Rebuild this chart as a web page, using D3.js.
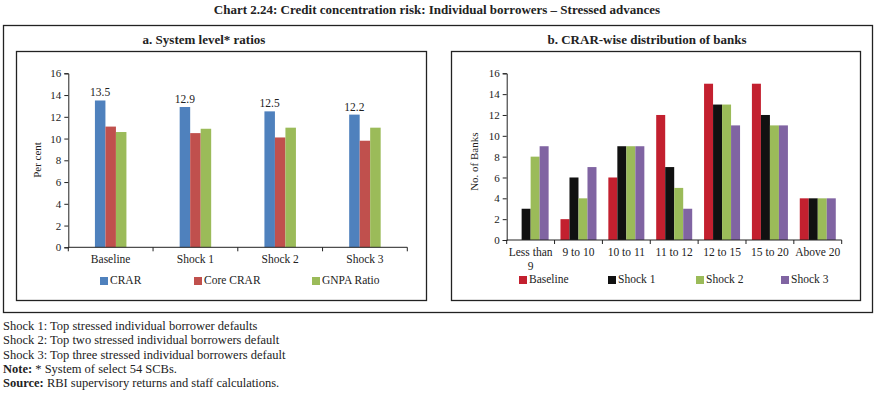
<!DOCTYPE html>
<html>
<head>
<meta charset="utf-8">
<script src="https://cdn.jsdelivr.net/npm/d3@7"></script>
<style>
  body { margin: 0; background: #fff; }
  svg text { font-family: "Liberation Serif", "DejaVu Serif", serif; fill: #222; }
</style>
</head>
<body>
<svg id="chart" width="879" height="395"></svg>
<script>
// ---- data ----
const scenarios = ['Baseline', 'Shock 1', 'Shock 2', 'Shock 3'];
const ratioSeries = ['CRAR', 'Core CRAR', 'GNPA Ratio'];
const crar = [13.5, 12.9, 12.5, 12.2];
const coreCrar = [11.1, 10.5, 10.1, 9.8];
const gnpaRatio = [10.6, 10.9, 11.0, 11.0];
const ratioColors = ['#4f81bd', '#c0504d', '#9bbb59'];

const crarBuckets = ['Less than 9', '9 to 10', '10 to 11', '11 to 12', '12 to 15', '15 to 20', 'Above 20'];
const baselineBanks = [0, 2, 6, 12, 15, 15, 4];
const shock1Banks = [3, 6, 9, 7, 13, 12, 4];
const shock2Banks = [8, 4, 9, 5, 13, 11, 4];
const shock3Banks = [9, 7, 9, 3, 11, 11, 4];
const bankColors = ['#c3202f', '#111111', '#9bbb59', '#8064a2'];

const yTicks = [0, 2, 4, 6, 8, 10, 12, 14, 16];

const svg = d3.select('#chart');

// ---- frame and titles ----
svg.append('text')
  .attr('x', 437).attr('y', 14)
  .attr('text-anchor', 'middle')
  .attr('font-size', '13px').attr('font-weight', 'bold')
  .text('Chart 2.24: Credit concentration risk: Individual borrowers \u2013 Stressed advances');

svg.append('rect')
  .attr('x', 3.5).attr('y', 25.5).attr('width', 869).attr('height', 287)
  .attr('fill', 'none').attr('stroke', '#222').attr('stroke-width', 1.3);

svg.append('rect')
  .attr('x', 16.5).attr('y', 51.5).attr('width', 410).attr('height', 249)
  .attr('fill', 'none').attr('stroke', '#222').attr('stroke-width', 1.3);
svg.append('rect')
  .attr('x', 451.5).attr('y', 51.5).attr('width', 409).attr('height', 249)
  .attr('fill', 'none').attr('stroke', '#222').attr('stroke-width', 1.3);

svg.append('text')
  .attr('x', 204).attr('y', 44)
  .attr('text-anchor', 'middle')
  .attr('font-size', '13px').attr('font-weight', 'bold')
  .text('a. System level* ratios');
svg.append('text')
  .attr('x', 647).attr('y', 44)
  .attr('text-anchor', 'middle')
  .attr('font-size', '13px').attr('font-weight', 'bold')
  .text('b. CRAR-wise distribution of banks');

// ---- shared helpers ----
function drawAxes(g, x, y, height, width) {
  const yAxis = d3.axisLeft(y).tickValues(yTicks).tickSize(4).tickPadding(3);
  const ya = g.append('g').call(yAxis);
  ya.selectAll('text').attr('font-size', '11px');
  ya.select('.domain').attr('stroke', '#222');
  ya.selectAll('.tick line').attr('stroke', '#222');

  const xa = g.append('g').attr('transform', `translate(0,${height})`);
  xa.append('line')
    .attr('x1', 0).attr('x2', width)
    .attr('stroke', '#222');
  // ticks at category boundaries
  const bounds = [...x.domain().map((d) => x(d)), width];
  xa.selectAll('line.tk')
    .data(bounds)
    .join('line')
    .attr('class', 'tk')
    .attr('x1', (d) => d).attr('x2', (d) => d)
    .attr('y1', 0).attr('y2', 4)
    .attr('stroke', '#222');
}

function drawLegend(g, items, colors, xs, yPos) {
  items.forEach((name, i) => {
    g.append('rect')
      .attr('x', xs[i]).attr('y', yPos - 4)
      .attr('width', 8).attr('height', 8)
      .attr('fill', colors[i]);
    g.append('text')
      .attr('x', xs[i] + 10).attr('y', yPos)
      .attr('dominant-baseline', 'middle')
      .attr('font-size', '11.5px')
      .text(name);
  });
}

// ---- panel a ----
{
  const left = 68.3, top = 73.3, width = 339, height = 174;
  const g = svg.append('g').attr('transform', `translate(${left},${top})`);

  const x = d3.scaleBand().domain(scenarios).range([0, width]);
  const y = d3.scaleLinear().domain([0, 16]).range([height, 0]);
  const groupW = 31.5;
  const xs = d3.scaleBand().domain(ratioSeries).range([0, groupW]);

  const rows = scenarios.map((s, i) => ({
    scenario: s,
    values: [crar[i], coreCrar[i], gnpaRatio[i]],
  }));

  const groups = g.selectAll('g.grp')
    .data(rows)
    .join('g')
    .attr('class', 'grp')
    .attr('transform', (d) => `translate(${x(d.scenario) + (x.bandwidth() - groupW) / 2},0)`);

  groups.selectAll('rect')
    .data((d) => d.values.map((v, k) => ({ key: ratioSeries[k], v: v, k: k })))
    .join('rect')
    .attr('x', (d) => xs(d.key))
    .attr('y', (d) => y(d.v))
    .attr('width', xs.bandwidth())
    .attr('height', (d) => height - y(d.v))
    .attr('fill', (d) => ratioColors[d.k]);

  // CRAR value labels
  groups.append('text')
    .attr('x', xs('CRAR') + xs.bandwidth() / 2)
    .attr('y', (d) => y(d.values[0]) - 4)
    .attr('text-anchor', 'middle')
    .attr('font-size', '11.5px')
    .text((d) => d.values[0].toFixed(1));

  drawAxes(g, x, y, height, width);

  g.append('g').selectAll('text')
    .data(scenarios)
    .join('text')
    .attr('x', (d) => x(d) + x.bandwidth() / 2)
    .attr('y', height + 16)
    .attr('text-anchor', 'middle')
    .attr('font-size', '11.5px')
    .text((d) => d);

  g.append('text')
    .attr('transform', `translate(${38 - left},${160 - top}) rotate(-90)`)
    .attr('text-anchor', 'middle')
    .attr('dominant-baseline', 'middle')
    .attr('font-size', '11px')
    .text('Per cent');

  drawLegend(svg, ratioSeries, ratioColors, [100, 194, 312], 281);
}

// ---- panel b ----
{
  const left = 506.7, top = 73.3, width = 335, height = 166.7;
  const g = svg.append('g').attr('transform', `translate(${left},${top})`);

  const seriesNames = ['Baseline', 'Shock 1', 'Shock 2', 'Shock 3'];
  const seriesVals = [baselineBanks, shock1Banks, shock2Banks, shock3Banks];

  const x = d3.scaleBand().domain(crarBuckets).range([0, width]);
  const y = d3.scaleLinear().domain([0, 16]).range([height, 0]);
  const groupW = 36;
  const xs = d3.scaleBand().domain(seriesNames).range([0, groupW]);

  const rows = crarBuckets.map((c, i) => ({
    bucket: c,
    values: seriesVals.map((arr) => arr[i]),
  }));

  const groups = g.selectAll('g.grp')
    .data(rows)
    .join('g')
    .attr('class', 'grp')
    .attr('transform', (d) => `translate(${x(d.bucket) + (x.bandwidth() - groupW) / 2},0)`);

  groups.selectAll('rect')
    .data((d) => d.values.map((v, k) => ({ key: seriesNames[k], v: v, k: k })))
    .join('rect')
    .attr('x', (d) => xs(d.key))
    .attr('y', (d) => y(d.v))
    .attr('width', xs.bandwidth())
    .attr('height', (d) => height - y(d.v))
    .attr('fill', (d) => bankColors[d.k]);

  drawAxes(g, x, y, height, width);

  const labels = g.append('g').selectAll('text')
    .data(crarBuckets)
    .join('text')
    .attr('x', (d) => x(d) + x.bandwidth() / 2)
    .attr('y', height + 16)
    .attr('text-anchor', 'middle')
    .attr('font-size', '11.5px');
  labels.each(function (d) {
    const t = d3.select(this);
    if (d === 'Less than 9') {
      t.append('tspan').attr('x', x(d) + x.bandwidth() / 2).text('Less than');
      t.append('tspan').attr('x', x(d) + x.bandwidth() / 2).attr('dy', 14).text('9');
    } else {
      t.text(d);
    }
  });

  g.append('text')
    .attr('transform', `translate(${475 - left},${161.7 - top}) rotate(-90)`)
    .attr('text-anchor', 'middle')
    .attr('dominant-baseline', 'middle')
    .attr('font-size', '11px')
    .text('No. of Banks');

  drawLegend(svg, seriesNames, bankColors, [519, 608, 696, 781], 280);
}

// ---- footnotes ----
const notes = [
  [null, 'Shock 1: Top stressed individual borrower defaults'],
  [null, 'Shock 2: Top two stressed individual borrowers default'],
  [null, 'Shock 3: Top three stressed individual borrowers default'],
  ['Note:', ' * System of select 54 SCBs.'],
  ['Source:', ' RBI supervisory returns and staff calculations.'],
];
notes.forEach((n, i) => {
  const t = svg.append('text')
    .attr('x', 3).attr('y', 330 + i * 14.3)
    .attr('font-size', '12.5px');
  if (n[0]) t.append('tspan').attr('font-weight', 'bold').text(n[0]);
  t.append('tspan').text(n[1]);
});
</script>
</body>
</html>
